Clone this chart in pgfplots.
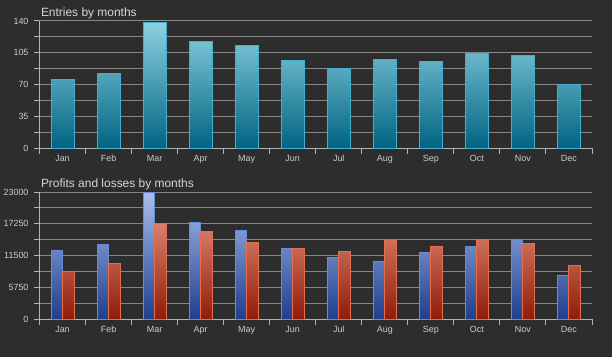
\documentclass[border=0pt]{standalone}
\usepackage{pgfplots}
\pgfplotsset{compat=1.18}
\usepackage{pgfplotstable}
\usepackage{fontspec}
\setmainfont{Liberation Sans}

\definecolor{bg}{RGB}{45,45,45}
\definecolor{gridc}{RGB}{135,135,135}
\definecolor{axc}{RGB}{180,180,180}
\definecolor{lbl}{RGB}{200,205,212}
\definecolor{ttl}{RGB}{215,215,215}
\definecolor{entTop}{RGB}{143,211,227}
\definecolor{entBot}{RGB}{0,100,130}
\definecolor{entEdge}{RGB}{64,176,208}
\definecolor{bluTop}{RGB}{169,189,236}
\definecolor{bluBot}{RGB}{30,63,142}
\definecolor{bluEdge}{RGB}{100,140,220}
\definecolor{redTop}{RGB}{240,161,141}
\definecolor{redBot}{RGB}{143,28,8}
\definecolor{redEdge}{RGB}{230,110,80}

\pgfplotstableread{
m entries profits losses
0 76 12500 8620
1 82 13600 10140
2 138 22900 17260
3 117 17500 15870
4 113 16100 13820
5 97 12850 12790
6 88 11250 12300
7 98 10500 14230
8 96 12000 13220
9 104.5 13200 14500
10 102.3 14500 13700
11 70.4 7970 9710
}\data

\pgfplotsset{chartstyle/.style={
  scale only axis, width=552.5bp, height=127.3bp,
  xmin=-0.5, xmax=11.5, enlargelimits=false,
  xtick={-0.5,0.5,...,11.5},
  xticklabels={Jan,Feb,Mar,Apr,May,Jun,Jul,Aug,Sep,Oct,Nov,Dec,{}},
  xticklabel style={xshift=23bp, text height=6.5bp, text depth=2bp, inner sep=1.5bp},
  axis lines=left, axis line style={-, draw=axc, line width=1bp},
  tick align=outside, major tick length=5.5bp, minor tick length=5.5bp,
  tick style={draw=axc, line width=1bp},
  ymajorgrids, yminorgrids, minor y tick num=1,
  grid style={draw=gridc, line width=1bp},
  minor grid style={draw=gridc, line width=1bp},
  ticklabel style={font=\fontsize{9}{10}\selectfont, text=lbl},
  /pgf/number format/assume math mode=true,
  /pgf/number format/1000 sep={},
  scaled y ticks=false,
  yticklabel style={xshift=-2bp},
  title style={at={(0,1)}, anchor=base west, yshift=-1bp, xshift=-2bp,
    font=\fontsize{12}{14}\selectfont, text=ttl},
}}

\begin{document}
\begin{tikzpicture}
\useasboundingbox (0,0) rectangle (612bp,357bp);
\fill[bg] (0,0) rectangle (612bp,357bp);
\begin{axis}[chartstyle, at={(39.5bp,208.7bp)}, anchor=south west,
  ymin=0, ymax=140, ytick={0,35,70,105,140},
  title={Entries by months}]
\pgfplotsinvokeforeach{0,...,11}{
  \pgfplotstablegetelem{#1}{entries}\of\data
  \let\val\pgfplotsretval
  \pgfmathtruncatemacro\pct{\val/140*100}
  \edef\tmp{\noexpand\addplot[ybar, bar width=0.5, bar shift=0, draw=entEdge, line width=1bp,
     top color=entTop!\pct!entBot, bottom color=entBot] coordinates {(#1,\val)};}
  \tmp
}
\end{axis}
\begin{axis}[chartstyle, at={(39.5bp,37.7bp)}, anchor=south west,
  ymin=0, ymax=23000, ytick={0,5750,11500,17250,23000},
  title={Profits and losses by months}]
\pgfplotsinvokeforeach{0,...,11}{
  \pgfplotstablegetelem{#1}{profits}\of\data
  \let\val\pgfplotsretval
  \edef\pct{\the\numexpr\val*100/23000\relax}
  \edef\tmp{\noexpand\addplot[ybar, bar width=0.25, bar shift=-0.125, draw=bluEdge, line width=1bp,
     top color=bluTop!\pct!bluBot, bottom color=bluBot] coordinates {(#1,\val)};}
  \tmp
  \pgfplotstablegetelem{#1}{losses}\of\data
  \let\val\pgfplotsretval
  \edef\pct{\the\numexpr\val*100/23000\relax}
  \edef\tmp{\noexpand\addplot[ybar, bar width=0.25, bar shift=0.125, draw=redEdge, line width=1bp,
     top color=redTop!\pct!redBot, bottom color=redBot] coordinates {(#1,\val)};}
  \tmp
}
\end{axis}
\end{tikzpicture}
\end{document}
